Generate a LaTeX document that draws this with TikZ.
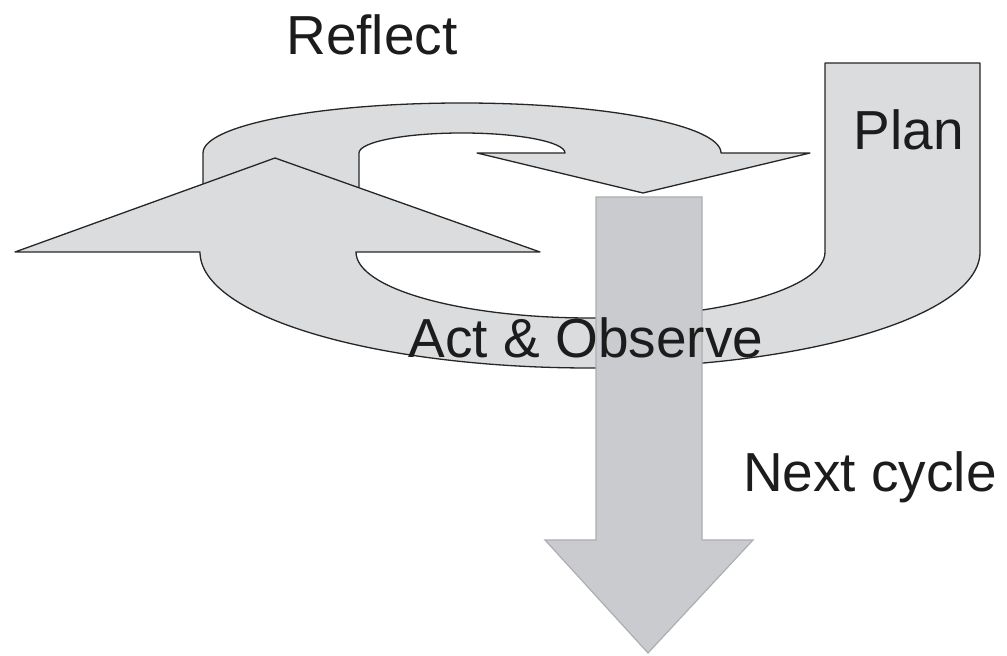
\documentclass[tikz,border=0pt]{standalone}
\usepackage{fontspec}
\setmainfont{Liberation Sans}
\definecolor{bandfill}{RGB}{218,220,222}
\definecolor{downfill}{RGB}{201,203,206}
\definecolor{downedge}{RGB}{172,174,177}
\definecolor{txt}{RGB}{28,28,28}
\begin{document}
\begin{tikzpicture}[x=1pt,y=1pt,
  band/.style={fill=bandfill,draw=black!85,line width=1.3pt,line join=round},
  downarrow/.style={fill=downfill,draw=downedge,line width=1.2pt,line join=miter},
  lbl/.style={font=\fontsize{55}{60}\selectfont,text=txt,inner sep=0pt,anchor=base}]
\useasboundingbox (0,0) rectangle (1007,656);
% upper loop (Reflect)
\draw[band] (203,456) -- (203,503) arc (180:0:259 and 50)
  -- (810,503) -- (643,463) -- (477,503) -- (565,503)
  arc (0:180:103 and 20) -- (359,456) -- cycle;
% lower U with large arrowhead (Plan -> Act & Observe -> Reflect)
\draw[band] (825,593) -- (980,593) -- (980,404)
  arc (0:-180:390 and 116) -- (15,404) -- (275,498) -- (540,404)
  -- (356,404) arc (180:360:234.5 and 66) -- cycle;
% next cycle arrow
\draw[downarrow] (596,459) -- (702,459) -- (702,116) -- (753,116)
  -- (648,3) -- (545,116) -- (596,116) -- cycle;
% labels
\node[lbl] (reflect) at (372,601) {Reflect};
\node[lbl] (plan) at (909,506) {Plan};
\node[lbl] (act) at (586,298) {Act \& Observe};
\node[lbl] (next) at (870,164) {Next cycle};
\end{tikzpicture}
\end{document}
